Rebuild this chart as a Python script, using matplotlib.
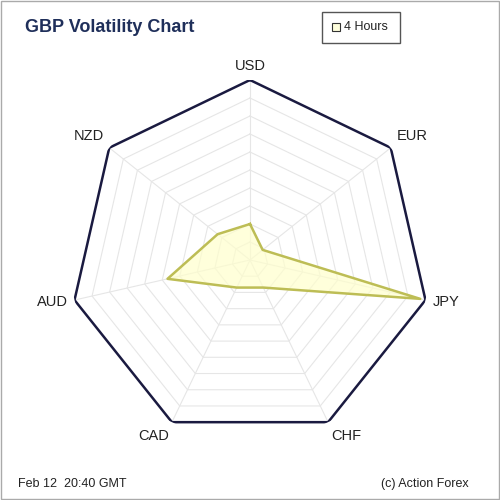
import numpy as np
import matplotlib.pyplot as plt
from matplotlib.patches import Rectangle

plt.rcParams['font.family'] = ['Liberation Sans', 'DejaVu Sans']

labels = ['USD', 'EUR', 'JPY', 'CHF', 'CAD', 'AUD', 'NZD']
values = [0.20, 0.09, 0.97, 0.17, 0.17, 0.47, 0.23]
rings = np.arange(0.1, 1.0, 0.1)

n = len(labels)
theta = np.pi / 2 - np.arange(n) * 2 * np.pi / n
theta_c = np.append(theta, theta[0])

fig = plt.figure(figsize=(5, 5), dpi=100)
fig.patches.append(Rectangle((0.002, 0.002), 0.996, 0.996, transform=fig.transFigure,
                             fill=False, edgecolor='#aaaaaa', lw=1))
ax = fig.add_axes([0.14, 0.12, 0.72, 0.72], polar=True)
ax.set_ylim(0, 1)
ax.axis('off')

for r in rings:
    ax.plot(theta_c, [r] * (n + 1), color='#e6e6e6', lw=0.8)
for t in theta:
    ax.plot([t, t], [0, 1], color='#e6e6e6', lw=0.8)
ax.plot(theta_c, [1] * (n + 1), color='#1a1a40', lw=1.8)

v = values + values[:1]
ax.fill(theta_c, v, color='#ffffcc', alpha=0.7, zorder=3)
ax.plot(theta_c, v, color='#bdbd55', lw=1.8, zorder=4)

for t, lab in zip(theta, labels):
    c, s = np.cos(t), np.sin(t)
    ha = 'center' if abs(c) < 0.3 else ('left' if c > 0 else 'right')
    va = 'bottom' if s > 0.5 else ('top' if s < -0.5 else 'center')
    ax.text(t, 1.04, lab, ha=ha, va=va, fontsize=10.5, color='#222222')

fig.text(0.05, 0.944, 'GBP Volatility Chart', fontsize=13, fontweight='bold',
         color='#1f2f5a', va='center')
fig.patches.append(Rectangle((0.644, 0.914), 0.156, 0.062, transform=fig.transFigure,
                             facecolor='white', edgecolor='#555555', lw=1))
fig.patches.append(Rectangle((0.664, 0.938), 0.016, 0.016, transform=fig.transFigure,
                             facecolor='#ffffdd', edgecolor='#333333', lw=0.8))
fig.text(0.688, 0.945, '4 Hours', fontsize=9, va='center', color='#222222')
fig.text(0.036, 0.032, 'Feb 12  20:40 GMT', fontsize=9, va='center', color='#222222')
fig.text(0.938, 0.032, '(c) Action Forex', fontsize=9, va='center', ha='right', color='#222222')

fig.savefig('out.png')
